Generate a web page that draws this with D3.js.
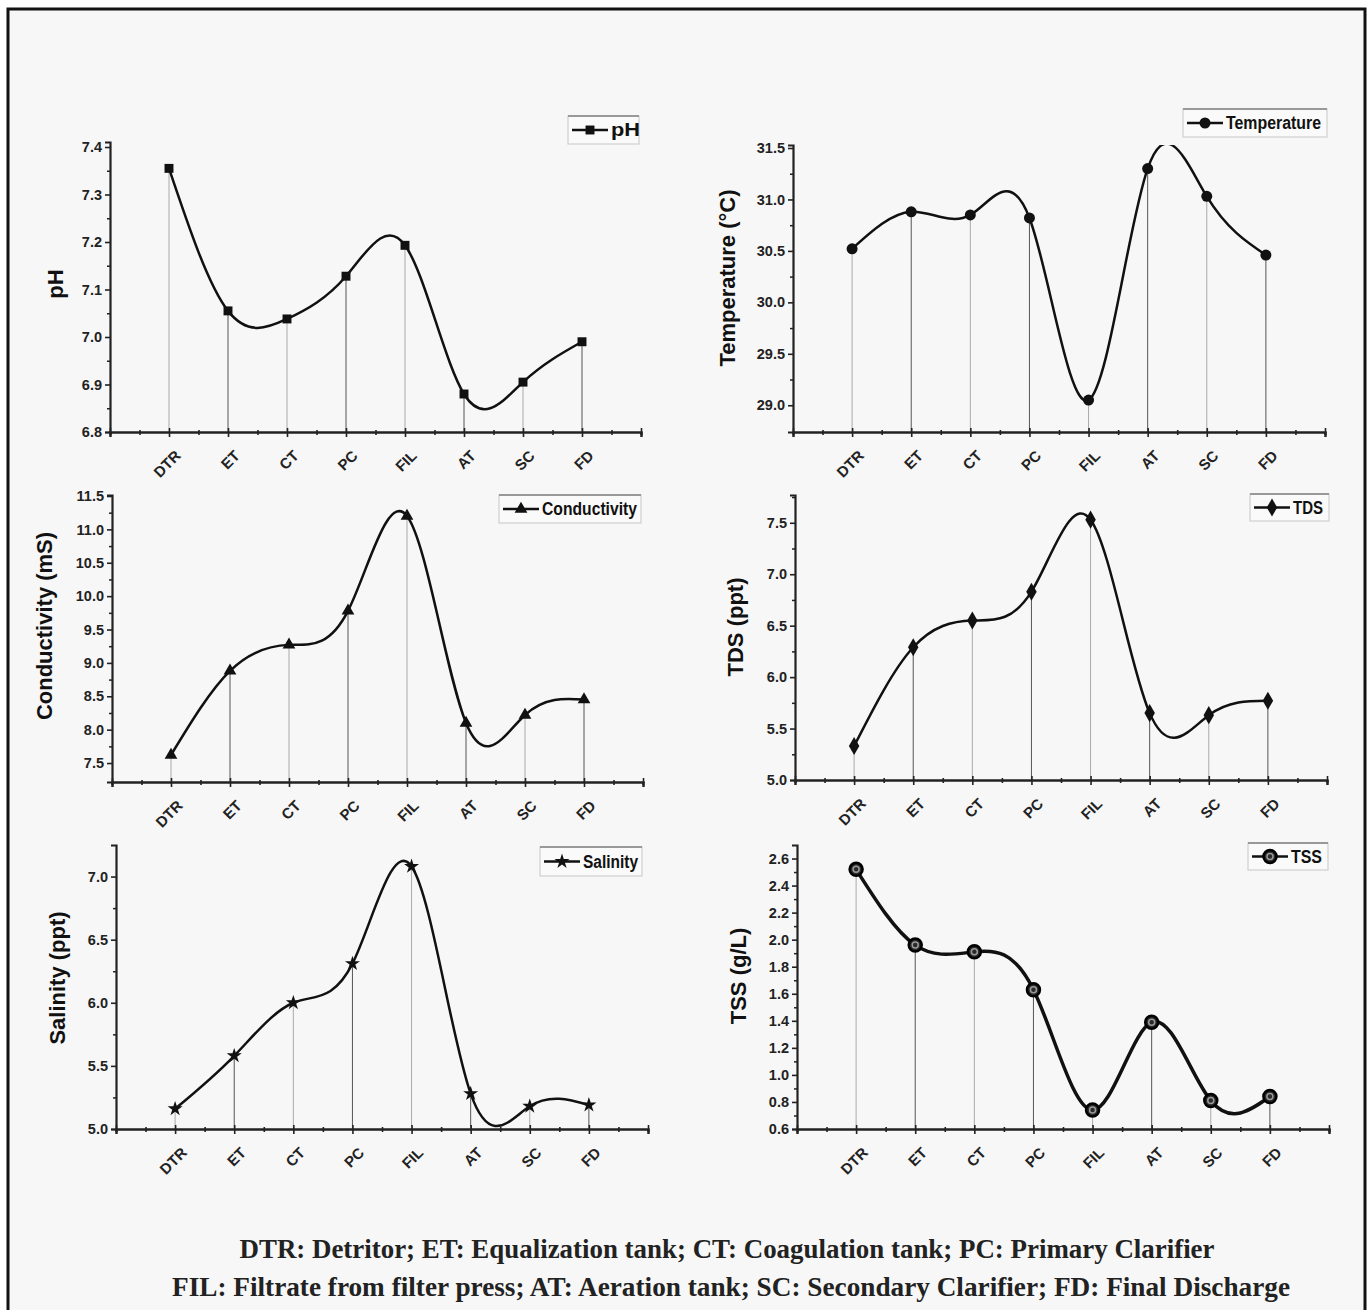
<!DOCTYPE html>
<html>
<head>
<meta charset="utf-8">
<script src="https://cdn.jsdelivr.net/npm/d3@7"></script>
<style>
  html, body { margin: 0; padding: 0; background: #ffffff; }
  svg { display: block; }
  .tick-label { font-family: "Liberation Sans", Arial, sans-serif; font-weight: bold; fill: #222; }
  .axis-title { font-family: "Liberation Sans", Arial, sans-serif; font-weight: bold; fill: #111; }
  .legend-text { font-family: "Liberation Sans", Arial, sans-serif; font-weight: bold; fill: #111; }
  .caption { font-family: "Liberation Serif", "Times New Roman", serif; font-weight: bold; fill: #222; }
</style>
</head>
<body>
<svg id="chart" width="1371" height="1310"></svg>
<script>
// ---------------- DATA ----------------
const categories = ["DTR", "ET", "CT", "PC", "FIL", "AT", "SC", "FD"];

const phValues           = [7.355, 7.055, 7.038, 7.128, 7.193, 6.880, 6.905, 6.990];
const temperatureValues  = [30.52, 30.88, 30.85, 30.82, 29.05, 31.30, 31.03, 30.46];
const conductivityValues = [7.62, 8.88, 9.27, 9.78, 11.20, 8.10, 8.22, 8.45];
const tdsValues          = [5.33, 6.29, 6.55, 6.83, 7.53, 5.65, 5.63, 5.77];
const salinityValues     = [5.16, 5.58, 6.00, 6.31, 7.08, 5.28, 5.18, 5.19];
const tssValues          = [2.52, 1.96, 1.91, 1.63, 0.74, 1.39, 0.81, 0.84];

const phTicks           = [6.8, 6.9, 7.0, 7.1, 7.2, 7.3, 7.4];
const temperatureTicks  = [29.0, 29.5, 30.0, 30.5, 31.0, 31.5];
const conductivityTicks = [7.5, 8.0, 8.5, 9.0, 9.5, 10.0, 10.5, 11.0, 11.5];
const tdsTicks          = [5.0, 5.5, 6.0, 6.5, 7.0, 7.5];
const salinityTicks     = [5.0, 5.5, 6.0, 6.5, 7.0];
const tssTicks          = [0.6, 0.8, 1.0, 1.2, 1.4, 1.6, 1.8, 2.0, 2.2, 2.4, 2.6];

const captionLines = [
  "DTR: Detritor; ET: Equalization tank; CT: Coagulation tank; PC: Primary Clarifier",
  "FIL: Filtrate from filter press; AT: Aeration tank; SC: Secondary Clarifier; FD: Final Discharge"
];

// ---------------- LAYOUT ----------------
const svg = d3.select("#chart");

svg.append("rect").attr("x", 0).attr("y", 0).attr("width", 1371).attr("height", 1310).attr("fill", "#ffffff");
svg.append("rect").attr("x", 8).attr("y", 9).attr("width", 1357).attr("height", 1310)
  .attr("fill", "#f7f7f7").attr("stroke", "#111").attr("stroke-width", 3);

const panels = [
  { values: phValues, ticks: phTicks, fmt: ".1f", domain: [6.8, 7.4], title: "pH", legend: "pH", marker: "square",
    left: 110, right: 641, top: 147, bottom: 432, axisTop: 142, titleX: 55, titleY: 284,
    leg: { x: 568, y: 116, w: 71, h: 28, tl: 29 } },
  { values: temperatureValues, ticks: temperatureTicks, fmt: ".1f", domain: [28.74, 31.5], title: "Temperature (°C)", legend: "Temperature", marker: "circle",
    left: 793, right: 1325, top: 148, bottom: 432, axisTop: 145, titleX: 727, titleY: 278,
    leg: { x: 1183, y: 109, w: 144, h: 28, tl: 95 } },
  { values: conductivityValues, ticks: conductivityTicks, fmt: ".1f", domain: [7.216, 11.5], title: "Conductivity (mS)", legend: "Conductivity", marker: "triangle",
    left: 112, right: 643, top: 496, bottom: 782, axisTop: 495, titleX: 44, titleY: 626,
    leg: { x: 499, y: 495, w: 142, h: 28, tl: 95 } },
  { values: tdsValues, ticks: tdsTicks, fmt: ".1f", domain: [5.0, 7.77], title: "TDS (ppt)", legend: "TDS", marker: "diamond",
    left: 795, right: 1327, top: 495, bottom: 780, axisTop: 495, titleX: 735, titleY: 627,
    leg: { x: 1250, y: 494, w: 79, h: 27, tl: 30 } },
  { values: salinityValues, ticks: salinityTicks, fmt: ".1f", domain: [5.0, 7.25], title: "Salinity (ppt)", legend: "Salinity", marker: "star",
    left: 116, right: 648, top: 845, bottom: 1129, axisTop: 845, titleX: 57, titleY: 978,
    leg: { x: 540, y: 847, w: 102, h: 29, tl: 55 } },
  { values: tssValues, ticks: tssTicks, fmt: ".1f", domain: [0.6, 2.70], title: "TSS (g/L)", legend: "TSS", marker: "ball",
    left: 797, right: 1329, top: 845, bottom: 1129, axisTop: 845, titleX: 738, titleY: 976,
    leg: { x: 1248, y: 843, w: 80, h: 27, tl: 31 } }
];

let clipId = 0;

function drawMarker(g, type, x, y) {
  if (type === "square") {
    g.append("path").attr("d", d3.symbol(d3.symbolSquare, 80)()).attr("transform", `translate(${x},${y})`).attr("fill", "#111");
  } else if (type === "circle") {
    g.append("path").attr("d", d3.symbol(d3.symbolCircle, 95)()).attr("transform", `translate(${x},${y})`).attr("fill", "#111");
  } else if (type === "triangle") {
    g.append("path").attr("d", d3.symbol(d3.symbolTriangle, 70)()).attr("transform", `translate(${x},${y})`).attr("fill", "#111");
  } else if (type === "diamond") {
    g.append("path").attr("d", d3.symbol(d3.symbolDiamond, 95)()).attr("transform", `translate(${x},${y})`).attr("fill", "#111");
  } else if (type === "star") {
    g.append("path").attr("d", d3.symbol(d3.symbolStar, 70)()).attr("transform", `translate(${x},${y})`).attr("fill", "#111");
  } else if (type === "ball") {
    g.append("circle").attr("cx", x).attr("cy", y).attr("r", 6.5).attr("fill", "#2a2a2a").attr("stroke", "#000").attr("stroke-width", 2.5);
    g.append("circle").attr("cx", x).attr("cy", y).attr("r", 3).attr("fill", "none").attr("stroke", "#9a9a9a").attr("stroke-width", 1.5);
  }
}

panels.forEach(p => {
  const g = svg.append("g");
  const x = d3.scaleLinear().domain([0, categories.length + 1]).range([p.left, p.right]);
  const y = d3.scaleLinear().domain(p.domain).range([p.bottom, p.top]);
  const yTopVal = y.invert(p.axisTop);

  // drop lines
  g.selectAll(".drop").data(p.values).enter().append("line")
    .attr("x1", (d, i) => x(i + 1)).attr("x2", (d, i) => x(i + 1))
    .attr("y1", d => y(d)).attr("y2", p.bottom)
    .attr("stroke", (d, i) => (i % 2 === 1 ? "#555" : "#aaa")).attr("stroke-width", 1);

  // x axis
  const xAxis = d3.axisBottom(x)
    .tickValues(d3.range(0, categories.length + 2))
    .tickSize(5).tickFormat("");
  const xg = g.append("g").attr("transform", `translate(0,${p.bottom})`).call(xAxis);
  xg.selectAll(".tick line").attr("y1", -4).attr("y2", 5);
  const xMinor = d3.axisBottom(x)
    .tickValues(d3.range(0.5, categories.length + 1, 1))
    .tickSize(3).tickFormat("");
  const xm = g.append("g").attr("transform", `translate(0,${p.bottom})`).call(xMinor);
  xm.selectAll(".tick line").attr("y1", -2).attr("y2", 3);
  [xg, xm].forEach(a => {
    a.select(".domain").attr("stroke", "#222").attr("stroke-width", 2.2);
    a.selectAll(".tick line").attr("stroke", "#222").attr("stroke-width", 1.6);
  });

  // x labels rotated
  g.selectAll(".xlab").data(categories).enter().append("text")
    .attr("class", "tick-label")
    .attr("font-size", 15)
    .attr("text-anchor", "end")
    .attr("transform", (d, i) => `translate(${x(i + 1) + 9},${p.bottom + 21}) rotate(-45)`)
    .attr("dy", "0.35em")
    .text(d => d);

  // y axis
  const yAxisScale = d3.scaleLinear().domain([p.domain[0], yTopVal]).range([p.bottom, p.axisTop]);
  const yAxis = d3.axisLeft(yAxisScale).tickValues(p.ticks).tickSize(5).tickPadding(3).tickFormat(d3.format(p.fmt));
  const yg = g.append("g").attr("transform", `translate(${p.left},0)`).call(yAxis);
  yg.select(".domain").attr("stroke", "#222").attr("stroke-width", 2.2);
  yg.selectAll(".tick line").attr("stroke", "#222").attr("stroke-width", 1.6);
  yg.selectAll(".tick text").attr("class", "tick-label").attr("font-size", 14.5).attr("fill", "#222");
  const step = p.ticks[1] - p.ticks[0];
  const minorVals = p.ticks.map(t => t + step / 2).filter(v => v < yTopVal);
  const ym = d3.axisLeft(yAxisScale).tickValues(minorVals).tickSize(3).tickFormat("");
  const ymg = g.append("g").attr("transform", `translate(${p.left},0)`).call(ym);
  ymg.select(".domain").remove();
  ymg.selectAll(".tick line").attr("stroke", "#222").attr("stroke-width", 1.5);

  // y title
  g.append("text").attr("class", "axis-title")
    .attr("font-size", 22)
    .attr("text-anchor", "middle")
    .attr("transform", `translate(${p.titleX},${p.titleY}) rotate(-90)`)
    .attr("dy", "0.35em")
    .text(p.title);

  // clip
  const cid = "clip" + (clipId++);
  svg.append("clipPath").attr("id", cid).append("rect")
    .attr("x", p.left).attr("y", p.axisTop).attr("width", p.right - p.left).attr("height", p.bottom - p.axisTop);

  // curve
  const line = d3.line().x((d, i) => x(i + 1)).y(d => y(d)).curve(d3.curveNatural);
  g.append("path").datum(p.values)
    .attr("d", line)
    .attr("fill", "none")
    .attr("stroke", "#111")
    .attr("stroke-width", p.marker === "ball" ? 3.5 : 2.5)
    .attr("clip-path", `url(#${cid})`);

  // markers
  p.values.forEach((v, i) => drawMarker(g, p.marker, x(i + 1), y(v)));

  // legend
  const L = p.leg;
  const lg = g.append("g");
  lg.append("rect").attr("x", L.x).attr("y", L.y).attr("width", L.w).attr("height", L.h)
    .attr("fill", "#fafafa").attr("stroke", "#cfcfcf").attr("stroke-width", 1.2);
  lg.append("line").attr("x1", L.x).attr("x2", L.x + L.w).attr("y1", L.y).attr("y2", L.y)
    .attr("stroke", "#999").attr("stroke-width", 2);
  const ly = L.y + L.h / 2;
  lg.append("line").attr("x1", L.x + 4).attr("x2", L.x + 40).attr("y1", ly).attr("y2", ly)
    .attr("stroke", "#111").attr("stroke-width", 2.5);
  drawMarker(lg, p.marker, L.x + 22, ly);
  lg.append("text").attr("class", "legend-text").attr("font-size", 18)
    .attr("x", L.x + 43).attr("y", ly).attr("dy", "0.35em")
    .attr("textLength", L.tl).attr("lengthAdjust", "spacingAndGlyphs")
    .text(p.legend);
});

// caption
const capY = [1258, 1296];
const capX = [727, 731];
const capLen = [975, 1118];
captionLines.forEach((t, i) => {
  svg.append("text").attr("class", "caption")
    .attr("font-size", 28)
    .attr("x", capX[i]).attr("y", capY[i])
    .attr("text-anchor", "middle")
    .attr("textLength", capLen[i])
    .attr("lengthAdjust", "spacingAndGlyphs")
    .text(t);
});
</script>
</body>
</html>
